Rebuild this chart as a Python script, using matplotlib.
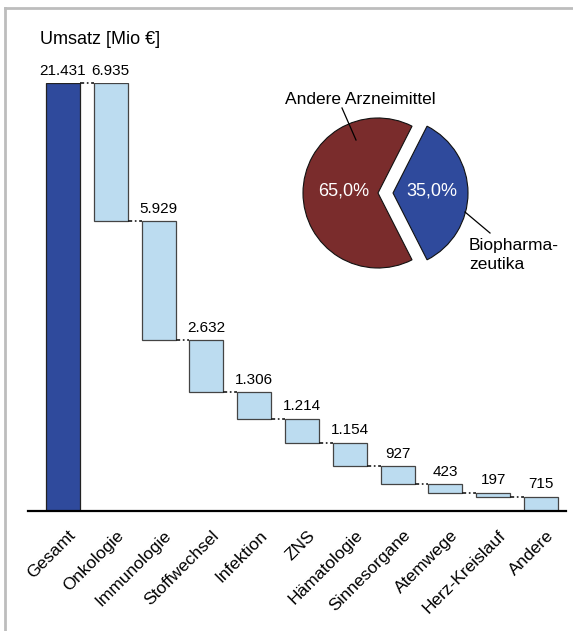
import matplotlib
matplotlib.use("Agg")
import matplotlib.pyplot as plt
from matplotlib.lines import Line2D
from matplotlib.transforms import ScaledTranslation

plt.rcParams['font.family'] = ['Liberation Sans', 'DejaVu Sans']

# Daten
categories = ['Gesamt', 'Onkologie', 'Immunologie', 'Stoffwechsel', 'Infektion', 'ZNS',
              'Hämatologie', 'Sinnesorgane', 'Atemwege', 'Herz-Kreislauf', 'Andere']
total = 21431
segments = [6935, 5929, 2632, 1306, 1214, 1154, 927, 423, 197, 715]

pie_labels = ['Biopharma-\nzeutika', 'Andere Arzneimittel']
pie_shares = [35.0, 65.0]

dark_blue = '#2f4a9c'
light_blue = '#bcdcf0'
dark_red = '#7a2c2c'

W, H = 573, 631
fig = plt.figure(figsize=(W / 100, H / 100), dpi=100)

def px(x0, y0, x1, y1):
    # pixel box (from top-left) -> figure fraction rect
    return [x0 / W, 1 - y1 / H, (x1 - x0) / W, (y1 - y0) / H]

# grey frame (top + left)
fig.add_artist(Line2D([5 / W, 5 / W], [0, 1 - 8 / H], transform=fig.transFigure,
                      color='#bdbdbd', lw=2))
fig.add_artist(Line2D([5 / W, 1], [1 - 8 / H, 1 - 8 / H], transform=fig.transFigure,
                      color='#bdbdbd', lw=2))

# Wasserfall
# =====================================================================================
ax = fig.add_axes(px(28, 83, 566, 511))
step = 47.8
ax.set_xlim((28 - 63) / step, (566 - 63) / step)
ax.set_ylim(0, total)
bw = 34 / step

ax.bar(0, total, width=bw, color=dark_blue, edgecolor='#222222', lw=0.9)
ax.annotate(f"{total:,}".replace(',', '.'), (0, total), xytext=(0, 6),
            textcoords='offset points', ha='center', va='baseline', fontsize=11)

level = total
for i, v in enumerate(segments, 1):
    bottom = max(level - v, 0)
    ax.bar(i, level - bottom, bottom=bottom, width=bw, color=light_blue,
           edgecolor='#444444', lw=0.9)
    ax.annotate(f"{v:,}".replace(',', '.'), (i, level), xytext=(0, 6),
                textcoords='offset points', ha='center', va='baseline', fontsize=11)
    # connector from previous bar
    ax.plot([i - 1 + bw / 2, i - bw / 2], [level, level], color='#1a1a1a', lw=1.2,
            ls=(0, (2.5, 1.6, 1.0, 1.6)), clip_on=False)
    level = bottom

ax.set_xticks(range(len(categories)))
ax.set_xticklabels(categories, rotation=45, ha='right', va='top',
                   rotation_mode='anchor', fontsize=12.5)
ax.tick_params(axis='x', length=0, pad=12)
shift = ScaledTranslation(5 / 100, 0, fig.dpi_scale_trans)
for lab in ax.get_xticklabels():
    lab.set_transform(lab.get_transform() + shift)
ax.set_yticks([])
for s in ['top', 'right', 'left']:
    ax.spines[s].set_visible(False)
ax.spines['bottom'].set_linewidth(1.6)
ax.patch.set_alpha(0)

fig.text(40 / W, 1 - 44 / H, 'Umsatz [Mio €]', fontsize=13, ha='left', va='baseline')

# Tortendiagramm
# =====================================================================================
cx, cy, r = 385.5, 193, 75
half = 1.6 * r
pax = fig.add_axes(px(cx - half, cy - half, cx + half, cy + half))
pax.pie(pie_shares, colors=[dark_blue, dark_red], startangle=-63, explode=(0.1, 0.1),
        wedgeprops=dict(edgecolor='#111111', linewidth=0.8), counterclock=True)
pax.set_xlim(-1.6, 1.6)
pax.set_ylim(-1.6, 1.6)
pax.set_aspect('equal')
pax.axis('off')

def pc(x, y):
    return ((x - cx) / r, (cy - y) / r)

pax.text(*pc(432, 191), f"{pie_shares[0]:.1f}%".replace('.', ','), color='white',
         ha='center', va='center', fontsize=13)
pax.text(*pc(344, 191), f"{pie_shares[1]:.1f}%".replace('.', ','), color='white',
         ha='center', va='center', fontsize=13)
pax.text(*pc(360, 99), pie_labels[1], ha='center', va='center', fontsize=12.5)
pax.text(*pc(469, 255), pie_labels[0], ha='left', va='center', fontsize=12.5,
         linespacing=1.3)
pax.plot(*zip(pc(342, 108), pc(356, 140)), color='black', lw=0.9)
pax.plot(*zip(pc(465, 212), pc(490, 233)), color='black', lw=0.9)

fig.savefig('out.png', dpi=100)
